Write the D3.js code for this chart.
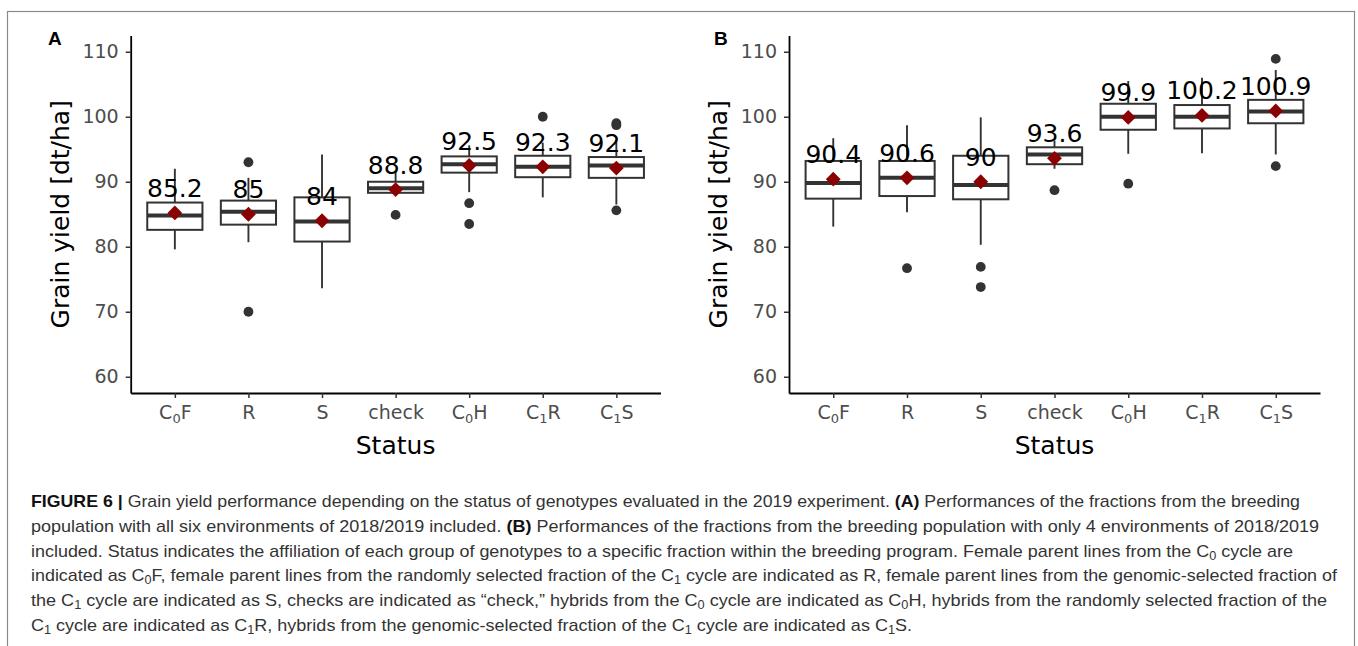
<!DOCTYPE html>
<html>
<head>
<meta charset="utf-8">
<script src="https://cdn.jsdelivr.net/npm/d3@7"></script>
<style>
  body { margin: 0; background: #fff; }
  svg { display: block; }
</style>
</head>
<body>
<svg id="fig" width="1358" height="646"></svg>
<script>
// categories on the x axis ("_0" = subscript 0)
var cats = ["C_0F", "R", "S", "check", "C_0H", "C_1R", "C_1S"];
var yTicks = [60, 70, 80, 90, 100, 110];

// panel A - all six environments
var meanA = [85.2, 85, 84, 88.8, 92.5, 92.3, 92.1];
var q1A   = [82.6, 83.4, 80.8, 88.3, 91.4, 90.7, 90.6];
var medA  = [84.8, 85.4, 83.9, 89.0, 92.7, 92.3, 92.5];
var q3A   = [86.8, 87.1, 87.6, 90.0, 93.9, 94.0, 93.8];
var loA   = [79.6, 80.7, 73.6, 88.0, 88.4, 87.6, 86.5];
var hiA   = [92.0, 90.6, 94.2, 91.7, 95.6, 96.0, 96.5];
var outA  = [[], [93.0, 70.0], [], [84.9], [86.7, 83.5], [100.0], [99.0, 98.7, 85.6]];

// panel B - only 4 environments
var meanB = [90.4, 90.6, 90, 93.6, 99.9, 100.2, 100.9];
var q1B   = [87.4, 87.8, 87.3, 92.7, 98.0, 98.2, 99.0];
var medB  = [89.8, 90.6, 89.5, 94.2, 100.0, 100.0, 100.8];
var q3B   = [93.2, 93.2, 94.0, 95.3, 102.0, 101.8, 102.6];
var loB   = [83.1, 85.3, 80.3, 92.0, 94.3, 94.4, 94.2];
var hiB   = [96.7, 98.7, 99.9, 96.3, 105.5, 106.0, 107.2];
var outB  = [[], [76.7], [76.9, 73.8], [88.7], [89.7], [], [108.9, 92.4]];

var caption = [
  "**FIGURE 6 |** Grain yield performance depending on the status of genotypes evaluated in the 2019 experiment. **(A)** Performances of the fractions from the breeding",
  "population with all six environments of 2018/2019 included. **(B)** Performances of the fractions from the breeding population with only 4 environments of 2018/2019",
  "included. Status indicates the affiliation of each group of genotypes to a specific fraction within the breeding program. Female parent lines from the C_0 cycle are",
  "indicated as C_0F, female parent lines from the randomly selected fraction of the C_1 cycle are indicated as R, female parent lines from the genomic-selected fraction of",
  "the C_1 cycle are indicated as S, checks are indicated as \u201Ccheck,\u201D hybrids from the C_0 cycle are indicated as C_0H, hybrids from the randomly selected fraction of the",
  "C_1 cycle are indicated as C_1R, hybrids from the genomic-selected fraction of the C_1 cycle are indicated as C_1S."
];
var captionEnds = [1300, 1319, 1293, 1337, 1327, 912];

var svg = d3.select("#fig");
svg.append("rect").attr("width", 1358).attr("height", 646).attr("fill", "#fff");
svg.append("rect")
    .attr("x", 7.5).attr("y", 11.5)
    .attr("width", 1347).attr("height", 660)
    .attr("fill", "none").attr("stroke", "#8a8a8a").attr("stroke-width", 1.2);

// write a label with "_0"/"_1" subscripts and **bold** runs as tspans
function richText(sel, str, subSize, shift) {
  var parts = str.split(/(\*\*[^*]+\*\*|_[01])/).filter(function(p) { return p !== ""; });
  var down = false;
  parts.forEach(function(p) {
    var t = sel.append("tspan");
    if (p.charAt(0) === "_") {
      t.text(p.slice(1)).attr("font-size", subSize).attr("dy", shift);
      down = true;
    } else {
      if (down) { t.attr("dy", -shift); down = false; }
      if (p.indexOf("**") === 0) {
        t.text(p.slice(2, -2)).attr("font-weight", "bold").attr("fill", "#111");
      } else {
        t.text(p);
      }
    }
  });
}

function drawPanel(opt) {
  var x = d3.scalePoint().domain(cats).range([opt.left, opt.right]).padding(0.6);
  var y = d3.scaleLinear().domain([57.5, 112.5]).range([393, 35.5]);
  var bw = x.step() * 0.75;
  var g = svg.append("g");

  var rows = cats.map(function(c, i) {
    return { cat: c, mean: opt.mean[i], q1: opt.q1[i], med: opt.med[i], q3: opt.q3[i],
             lo: opt.lo[i], hi: opt.hi[i], out: opt.out[i] };
  });

  // axes
  var yAxis = g.append("g")
      .attr("transform", "translate(" + opt.left + ",0)")
      .call(d3.axisLeft(y).tickValues(yTicks).tickSize(5).tickSizeOuter(0).tickPadding(7));
  var xAxis = g.append("g")
      .attr("transform", "translate(0,393)")
      .call(d3.axisBottom(x).tickSize(5).tickSizeOuter(0).tickPadding(8));
  [yAxis, xAxis].forEach(function(a) {
    a.select(".domain").attr("stroke", "#000").attr("stroke-width", 1.8);
    a.selectAll(".tick line").attr("stroke", "#333").attr("stroke-width", 1.5);
    a.selectAll(".tick text")
        .attr("font-family", "DejaVu Sans, sans-serif")
        .attr("font-size", 19).attr("fill", "#4d4d4d");
  });
  xAxis.selectAll(".tick text").each(function(d) {
    var t = d3.select(this).text("");
    richText(t, d, 13, 4);
  });

  // boxes
  var box = g.selectAll(".box").data(rows).enter().append("g").attr("class", "box");
  box.append("line")
      .attr("x1", function(d) { return x(d.cat); }).attr("x2", function(d) { return x(d.cat); })
      .attr("y1", function(d) { return y(d.hi); }).attr("y2", function(d) { return y(d.lo); })
      .attr("stroke", "#333").attr("stroke-width", 1.9);
  box.append("rect")
      .attr("x", function(d) { return x(d.cat) - bw / 2; })
      .attr("width", bw)
      .attr("y", function(d) { return y(d.q3); })
      .attr("height", function(d) { return y(d.q1) - y(d.q3); })
      .attr("fill", "#fff").attr("stroke", "#333").attr("stroke-width", 2);
  box.append("line")
      .attr("x1", function(d) { return x(d.cat) - bw / 2; })
      .attr("x2", function(d) { return x(d.cat) + bw / 2; })
      .attr("y1", function(d) { return y(d.med); }).attr("y2", function(d) { return y(d.med); })
      .attr("stroke", "#333").attr("stroke-width", 4);
  box.selectAll("circle")
      .data(function(d) { return d.out.map(function(v) { return { cat: d.cat, v: v }; }); })
      .enter().append("circle")
      .attr("cx", function(d) { return x(d.cat); })
      .attr("cy", function(d) { return y(d.v); })
      .attr("r", 4.9).attr("fill", "#333");

  // means
  g.selectAll(".mean").data(rows).enter().append("path")
      .attr("class", "mean")
      .attr("d", d3.symbol(d3.symbolSquare, 110))
      .attr("transform", function(d) { return "translate(" + x(d.cat) + "," + y(d.mean) + ") rotate(45)"; })
      .attr("fill", "#8b0000");
  g.selectAll(".mlab").data(rows).enter().append("text")
      .attr("class", "mlab")
      .attr("x", function(d) { return x(d.cat); })
      .attr("y", function(d) { return y(d.mean) - 16; })
      .attr("text-anchor", "middle")
      .attr("font-family", "DejaVu Sans, sans-serif").attr("font-size", 25)
      .attr("fill", "#000")
      .text(function(d) { return d.mean; });

  // titles
  g.append("text")
      .attr("transform", "translate(" + opt.titleX + "," + (y(57.5) + y(112.5)) / 2 + ") rotate(-90)")
      .attr("text-anchor", "middle")
      .attr("font-family", "DejaVu Sans, sans-serif").attr("font-size", 25)
      .text("Grain yield [dt/ha]");
  g.append("text")
      .attr("x", (opt.left + opt.right) / 2).attr("y", 454)
      .attr("text-anchor", "middle")
      .attr("font-family", "DejaVu Sans, sans-serif").attr("font-size", 25)
      .text("Status");
  g.append("text")
      .attr("x", opt.tagX).attr("y", 45)
      .attr("font-family", "Liberation Sans, Arial, sans-serif")
      .attr("font-weight", "bold").attr("font-size", 19)
      .text(opt.tag);
}

drawPanel({ tag: "A", tagX: 48, titleX: 69, left: 130.7, right: 660.5,
  mean: meanA, q1: q1A, med: medA, q3: q3A, lo: loA, hi: hiA, out: outA });
drawPanel({ tag: "B", tagX: 714, titleX: 727, left: 789, right: 1320,
  mean: meanB, q1: q1B, med: medB, q3: q3B, lo: loB, hi: hiB, out: outB });

// caption
var cap = svg.append("g")
    .attr("font-family", "Liberation Sans Narrow, Liberation Sans, Arial, sans-serif")
    .attr("font-size", 17).attr("fill", "#333");
caption.forEach(function(line, i) {
  var t = cap.append("text")
      .attr("x", 31).attr("y", 507 + i * 24.8)
      .attr("textLength", captionEnds[i] - 31)
      .attr("lengthAdjust", "spacingAndGlyphs");
  richText(t, line, 12, 3);
});
</script>
</body>
</html>
